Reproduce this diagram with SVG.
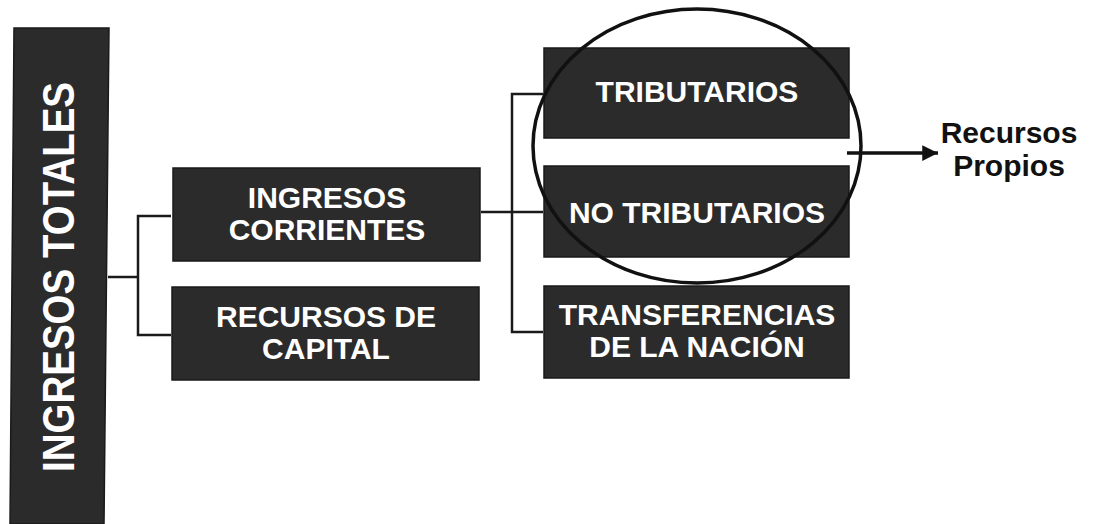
<svg xmlns="http://www.w3.org/2000/svg" width="1094" height="524" viewBox="0 0 1094 524">
<style>
.box{fill:#2b2b2b;stroke:#1a1a1a;stroke-width:1.5}
.bt{fill:#ffffff;font-family:"Liberation Sans",Arial,sans-serif;font-weight:bold;font-size:30px;text-anchor:middle}
.ln{fill:none;stroke:#1a1a1a;stroke-width:2.5}
.lbl{fill:#111111;font-family:"Liberation Sans",Arial,sans-serif;font-weight:bold;font-size:30px;text-anchor:middle}
</style>
<defs>
<marker id="ah" viewBox="0 0 10 10" refX="10" refY="5" markerWidth="4.5" markerHeight="4.5" markerUnits="strokeWidth" orient="auto">
<path d="M0,0 L10,5 L0,10 z" fill="#111111"/>
</marker>
</defs>
<rect width="1094" height="524" fill="#ffffff"/>
<g id="connectors">
<polyline class="ln" points="108,277 138,277"/>
<polyline class="ln" points="171,216 138,216 138,335 171,335"/>
<polyline class="ln" points="481,212 543,212"/>
<polyline class="ln" points="543,94 512,94 512,332 543,332"/>
<line x1="847" y1="153" x2="938" y2="153" stroke="#111111" stroke-width="3.5" marker-end="url(#ah)"/>
</g>
<g id="n-total">
<polygon class="box" points="14,28 109,28 104,524 10,524"/>
<text class="bt" transform="translate(74,277) rotate(-90)" font-size="45" style="font-size:45px" textLength="390" lengthAdjust="spacingAndGlyphs">INGRESOS TOTALES</text>
</g>
<g id="n-corrientes">
<rect class="box" x="173" y="168" width="307" height="93"/>
<text class="bt" x="327" y="208">INGRESOS</text>
<text class="bt" x="327" y="240">CORRIENTES</text>
</g>
<g id="n-capital">
<rect class="box" x="172" y="287" width="307" height="93"/>
<text class="bt" x="326" y="327">RECURSOS DE</text>
<text class="bt" x="326" y="359">CAPITAL</text>
</g>
<g id="n-tributarios">
<rect class="box" x="544" y="48" width="305" height="90"/>
<text class="bt" x="697" y="102">TRIBUTARIOS</text>
</g>
<g id="n-notributarios">
<rect class="box" x="544" y="166" width="305" height="91"/>
<text class="bt" x="697" y="223">NO TRIBUTARIOS</text>
</g>
<g id="n-transferencias">
<rect class="box" x="544" y="286" width="305" height="92"/>
<text class="bt" x="697" y="325">TRANSFERENCIAS</text>
<text class="bt" x="697" y="357">DE LA NACIÓN</text>
</g>
<g id="n-ellipse">
<ellipse cx="697" cy="146" rx="164" ry="137" fill="none" stroke="#111111" stroke-width="3.5"/>
</g>
<g id="n-propios">
<text class="lbl" x="1009" y="143">Recursos</text>
<text class="lbl" x="1009" y="176">Propios</text>
</g>
</svg>
